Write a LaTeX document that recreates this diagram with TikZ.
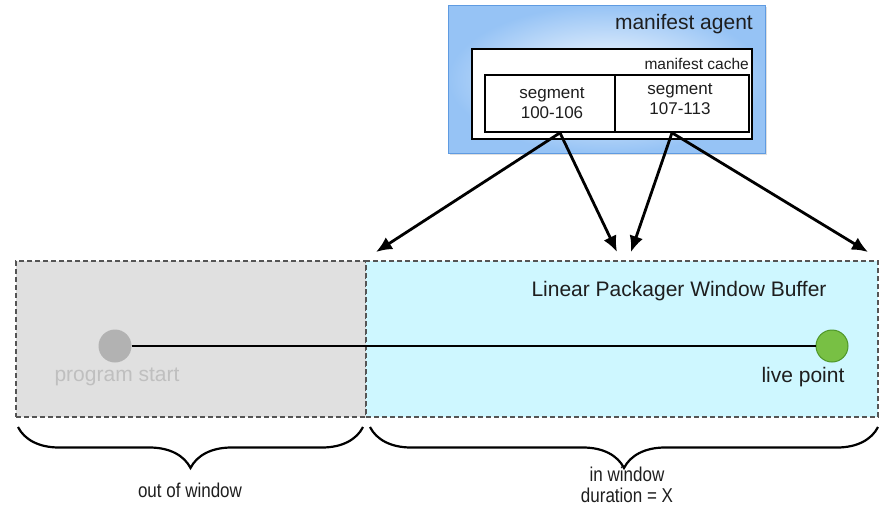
\documentclass[tikz,border=0pt]{standalone}
\usepackage{fontspec}
\setmainfont{Liberation Sans}
\newfontfamily\narrowfont[FakeStretch=0.85]{Liberation Sans}
\usetikzlibrary{positioning,arrows.meta,shadows,decorations.pathreplacing}
\definecolor{agentblue}{RGB}{95,155,225}
\definecolor{agentfill}{RGB}{150,195,245}
\definecolor{wincyan}{RGB}{206,247,255}
\definecolor{outgrey}{RGB}{224,224,224}
\definecolor{dashgrey}{RGB}{85,85,85}
\definecolor{livegreen}{RGB}{120,192,68}
\definecolor{livedark}{RGB}{78,150,40}
\definecolor{txt}{RGB}{30,30,30}
\begin{document}
\begin{tikzpicture}[x=1pt,y=-1pt]
  \tikzstyle{boxnode} = [draw=black, line width=1.6pt, fill=white, inner sep=0pt]
  \tikzstyle{bufnode} = [draw=dashgrey, line width=1.4pt, dash pattern=on 5pt off 3pt, inner sep=0pt, minimum height=156pt]
  \tikzstyle{bigtext} = [text=txt, font=\fontsize{21}{24}\selectfont, inner sep=0pt]
  \tikzstyle{segtext} = [text=txt, font=\fontsize{17}{20}\selectfont, align=center, inner sep=0pt]
  \tikzstyle{bracetext} = [text=txt, font=\narrowfont\fontsize{20}{21}\selectfont, align=center, inner sep=0pt]
  \tikzstyle{fetch} = [line width=2.8pt, -{Latex[length=16pt,width=14pt]}]
  \useasboundingbox (0,0) rectangle (880,509);

  % manifest agent
  \node[draw=agentblue, line width=1pt, minimum width=317pt, minimum height=148pt,
        inner color=white, outer color=agentfill,
        drop shadow={opacity=0.25, shadow xshift=2pt, shadow yshift=-2pt}] (agent) at (606.5,79) {};
  \node[bigtext, anchor=east] (agentlbl) at (753,24) {manifest agent};
  \node[boxnode, minimum width=280pt, minimum height=90pt] (cache) at (612,94) {};
  \node[text=txt, font=\fontsize{15.5}{18}\selectfont, anchor=east, inner sep=0pt] (cachelbl) at (749,64) {manifest cache};
  \node[boxnode, minimum width=130pt, minimum height=57pt] (s1) at (550,103.5) {};
  \node[boxnode, minimum width=134pt, minimum height=57pt] (s2) at (682,103.5) {};
  \node[segtext] (s1lbl) at (552,103) {segment\\100-106};
  \node[segtext] (s2lbl) at (680,99) {segment\\107-113};

  % window buffer
  \node[bufnode, fill=outgrey, minimum width=350pt] (out) at (191,339) {};
  \node[bufnode, fill=wincyan, minimum width=512pt] (win) at (622,339) {};
  \node[bigtext] (winlbl) at (679,291) {Linear Packager Window Buffer};

  \node[circle, fill=black!30, minimum size=33pt, inner sep=0pt] (start) at (115,346) {};
  \node[circle, fill=livegreen, draw=livedark, line width=1pt, minimum size=32pt, inner sep=0pt] (live) at (832,346) {};
  \draw[line width=2.6pt] (start) -- (live);
  \node[bigtext, text=black!25] (startlbl) at (117,377) {program start};
  \node[bigtext] (livelbl) at (803,377) {live point};

  % arrows
  \coordinate (t1) at (376,252);
  \coordinate (t2) at (617,252);
  \coordinate (t3) at (631,252);
  \coordinate (t4) at (868,252);
  \draw[fetch] ([xshift=10pt]s1.south) -- (t1);
  \draw[fetch] ([xshift=10pt]s1.south) -- (t2);
  \draw[fetch] ([xshift=-10pt]s2.south) -- (t3);
  \draw[fetch] ([xshift=-10pt]s2.south) -- (t4);

  % braces
  \draw[decorate, decoration={brace, mirror, amplitude=41pt}, line width=2.2pt] (18,427) -- (363,427);
  \draw[decorate, decoration={brace, mirror, amplitude=41pt}, line width=2.2pt] (370,427) -- (878,427);
  \node[bracetext] (outlbl) at (190,490) {out of window};
  \node[bracetext] (inlbl) at (627,485) {in window\\duration = X};
\end{tikzpicture}
\end{document}
